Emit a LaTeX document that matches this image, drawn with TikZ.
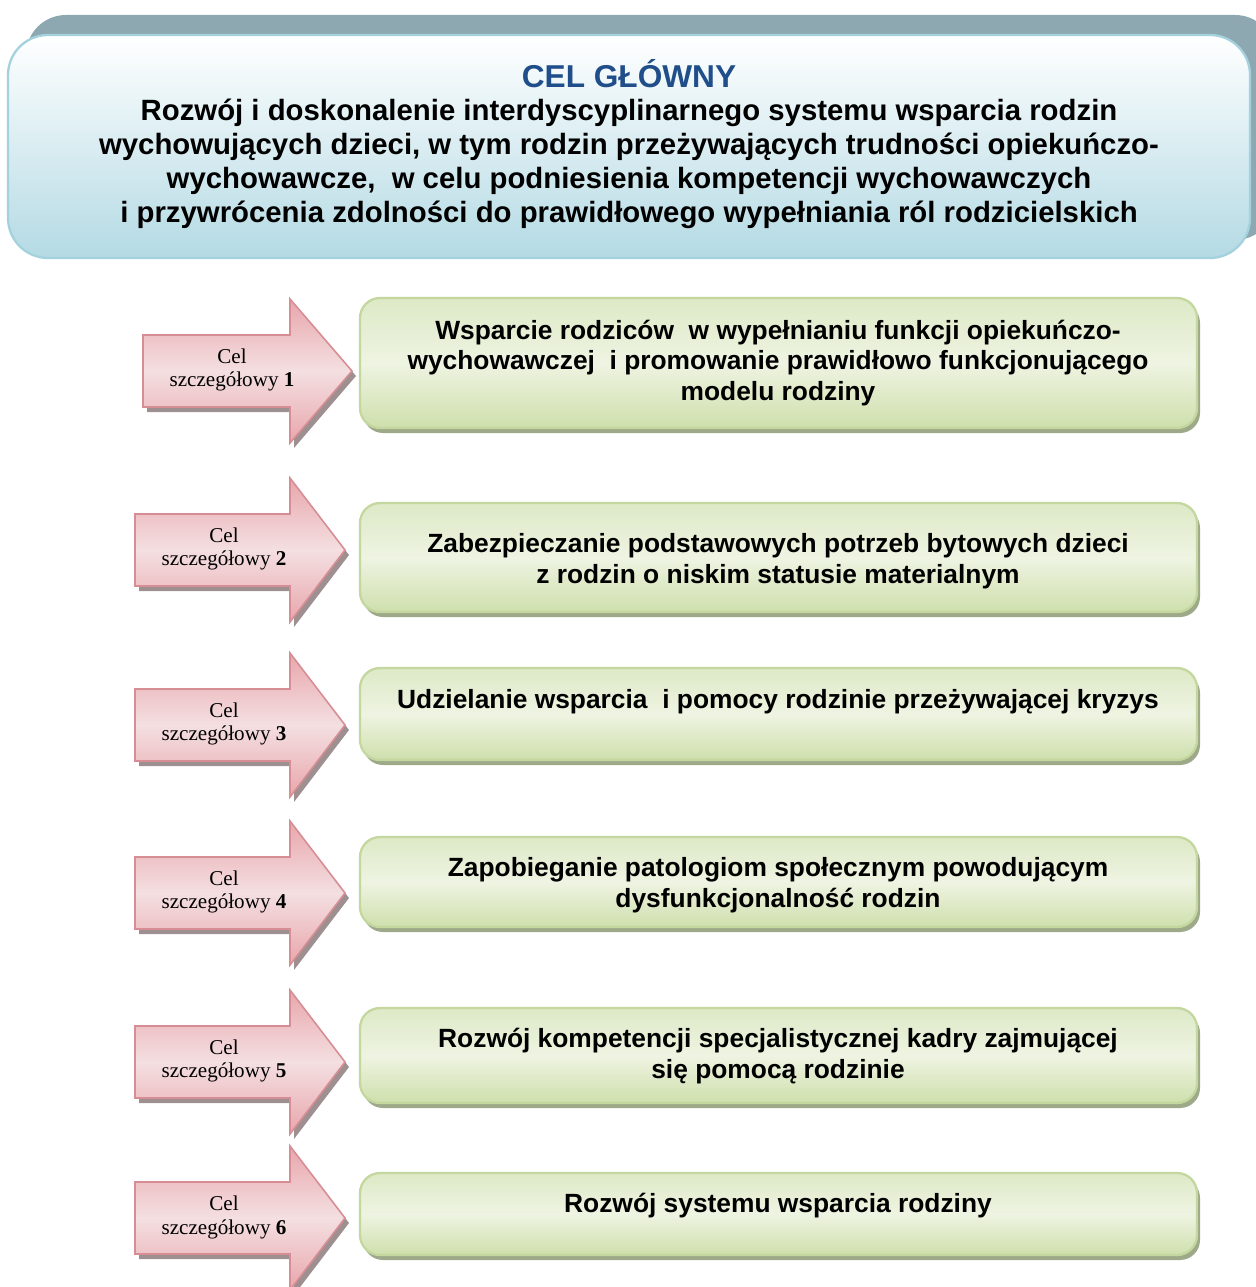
\documentclass[tikz,border=0pt]{standalone}
\usepackage{fontspec}
\setmainfont{Liberation Serif}
\setsansfont{Liberation Sans}
\usetikzlibrary{calc,positioning}

\definecolor{celniebieski}{HTML}{1F4E8A}
\definecolor{ramkaniebieska}{HTML}{A3D2DE}
\definecolor{tloniebieskie}{HTML}{B4DAE4}
\definecolor{cienniebieski}{HTML}{8DA8B0}
\definecolor{ramkazielona}{HTML}{C3D79E}
\definecolor{zielonygora}{HTML}{DDE9C6}
\definecolor{zielonysrodek}{HTML}{EEF4E2}
\definecolor{zielonydol}{HTML}{CFDFAC}
\definecolor{cienzielony}{HTML}{9EA98A}
\definecolor{ramkarozowa}{HTML}{D68E94}
\definecolor{rozowygora}{HTML}{E8A6AC}
\definecolor{rozowysrodek}{HTML}{F4DFE1}
\definecolor{cienrozowy}{HTML}{9E8F90}

\tikzset{
  glownybox/.style={draw=ramkaniebieska, line width=1.3pt, rounded corners=0.8cm,
    top color=white, bottom color=tloniebieskie},
  zielonybox/.style={draw=ramkazielona, line width=1.3pt, rounded corners=0.4cm,
    top color=zielonygora, bottom color=zielonydol, middle color=zielonysrodek},
  strzalka/.style={draw=ramkarozowa, line width=0.9pt,
    top color=rozowygora, bottom color=rozowygora, middle color=rozowysrodek},
  opistekst/.style={align=center, font=\sffamily\bfseries\fontsize{15}{17.4}\selectfont},
  celtekst/.style={align=center, inner sep=0pt, font=\fontsize{12}{13.6}\selectfont}
}

\begin{document}
\begin{tikzpicture}[x=0.02cm, y=-0.02cm]
\useasboundingbox (0,0) rectangle (1255,1287);

% cel glowny
\fill[cienniebieski, rounded corners=0.8cm] (26,15) rectangle (1275,240);
\path[glownybox] (8,35) rectangle (1250,258);
\node[font=\sffamily\bfseries\fontsize{18}{20}\selectfont, text=celniebieski] (celglowny) at (629,74) {CEL GŁÓWNY};
\node[align=center, font=\sffamily\bfseries\fontsize{16.7}{19.4}\selectfont] (celopis) at (629,164)
  {Rozwój i doskonalenie interdyscyplinarnego systemu wsparcia rodzin\\
   wychowujących dzieci, w tym rodzin przeżywających trudności opiekuńczo-\\
   wychowawcze,\ \ w celu podniesienia kompetencji wychowawczych\\
   i przywrócenia zdolności do prawidłowego wypełniania ról rodzicielskich};

% cele szczegolowe
\foreach \gora/\dol/\ty/\c/\L/\tip/\nr/\tekst in {
  298/428/363/371/143/352/1/{Wsparcie rodziców\ \ w wypełnianiu funkcji opiekuńczo-\\wychowawczej\ \ i promowanie prawidłowo funkcjonującego\\modelu rodziny},
  503/612/561/550/135/345/2/{Zabezpieczanie podstawowych potrzeb bytowych dzieci\\z rodzin o niskim statusie materialnym},
  668/760/702/725/135/345/3/{Udzielanie wsparcia\ \ i pomocy rodzinie przeżywającej kryzys},
  837/927/885/893/135/345/4/{Zapobieganie patologiom społecznym powodującym\\dysfunkcjonalność rodzin},
  1008/1103/1056/1062/135/345/5/{Rozwój kompetencji specjalistycznej kadry zajmującej\\się pomocą rodzinie},
  1173/1255/1206/1218/135/345/6/{Rozwój systemu wsparcia rodziny}} {
  % strzalka
  \fill[cienrozowy] ($(\L,\c-36)+(4,5)$) -- ++(290-\L,0) -- ($(290,\c-72)+(4,5)$) -- ($(\tip,\c)+(4,5)$)
    -- ($(290,\c+72)+(4,5)$) -- ($(290,\c+36)+(4,5)$) -- ($(\L,\c+36)+(4,5)$) -- cycle;
  \path[strzalka] (\L,\c-36) -- (290,\c-36) -- (290,\c-72) -- (\tip,\c)
    -- (290,\c+72) -- (290,\c+36) -- (\L,\c+36) -- cycle;
  \node[celtekst] (cel\nr) at (\L+89,\c-1) {Cel\\szczegółowy \textbf{\nr}};
  % ramka z opisem
  \fill[cienzielony, rounded corners=0.4cm] (363,\gora+5) rectangle (1200,\dol+5);
  \path[zielonybox] (360,\gora) rectangle (1197,\dol);
  \node[opistekst] (opis\nr) at (778,\ty) {\tekst};
}

\end{tikzpicture}
\end{document}
